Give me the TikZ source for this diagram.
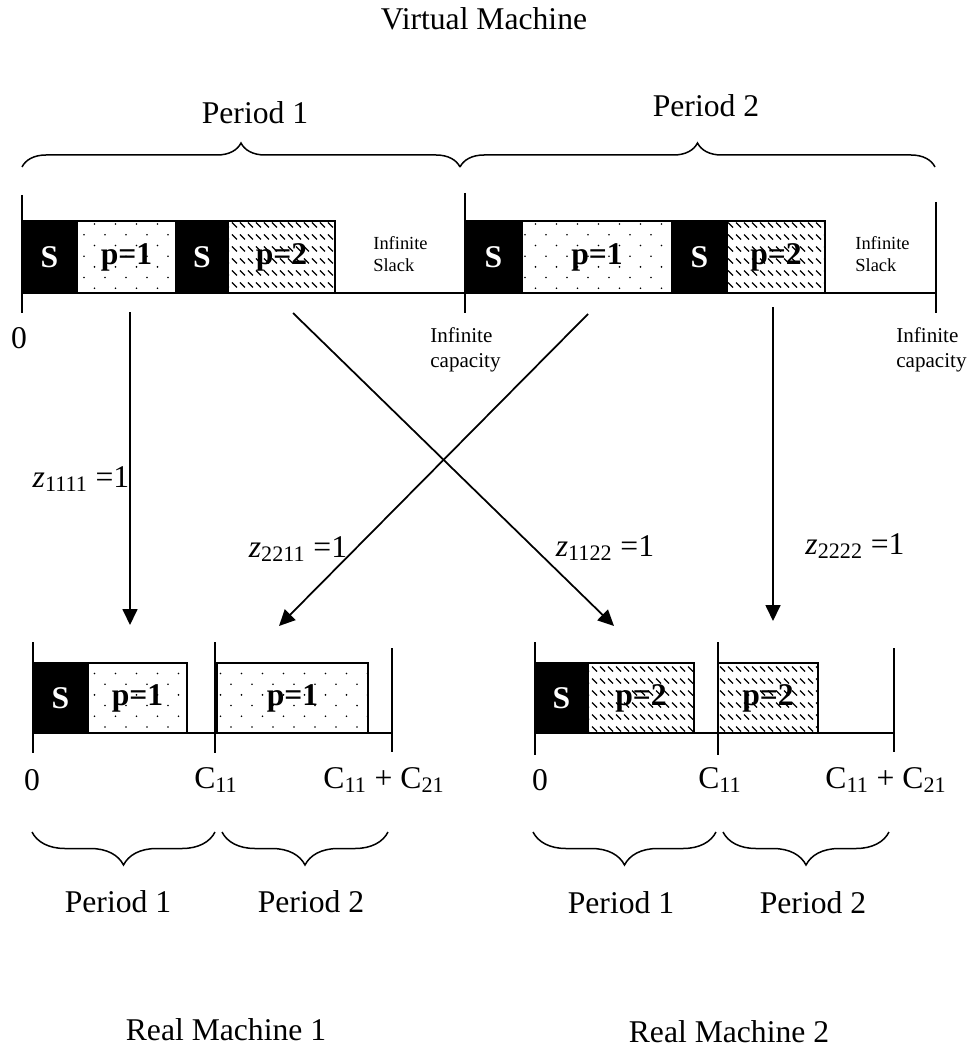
\documentclass[tikz,border=0pt]{standalone}
\usepackage{fontspec}
\setmainfont{Liberation Serif}
\usetikzlibrary{
  arrows.meta,
  positioning,
  patterns,
  decorations.pathreplacing
}

% dotted fill (product 1) and short hatch (product 2)
\pgfdeclarepatternformonly{stagdots}{\pgfqpoint{-0.5mm}{-0.5mm}}{\pgfqpoint{4.7mm}{4.8mm}}{\pgfqpoint{4.2mm}{4.28mm}}{%
  \pgfpathcircle{\pgfqpoint{0mm}{0mm}}{0.18mm}%
  \pgfpathcircle{\pgfqpoint{2.1mm}{2.14mm}}{0.18mm}%
  \pgfusepath{fill}}
\pgfdeclarepatternformonly{hatchdash}{\pgfqpoint{-0.2mm}{-0.2mm}}{\pgfqpoint{1.8mm}{2.6mm}}{\pgfqpoint{1.6mm}{2.4mm}}{%
  \pgfsetlinewidth{0.24mm}%
  \pgfpathmoveto{\pgfqpoint{0mm}{1.9mm}}%
  \pgfpathlineto{\pgfqpoint{1mm}{0.9mm}}%
  \pgfusepath{stroke}}

\begin{document}
\begin{tikzpicture}[x=0.2mm, y=-0.2mm,
  big/.style={font=\fontsize{18}{21}\selectfont},
  tiny/.style={font=\fontsize{10.5}{12.5}\selectfont, align=left, anchor=west, inner sep=0pt},
  capa/.style={font=\fontsize{12}{14.5}\selectfont, align=left, anchor=west, inner sep=0pt},
  blk/.style={draw, line width=0.4mm, inner sep=0pt, outer sep=0pt, font=\fontsize{18}{21}\selectfont\bfseries},
  setup/.style={blk, fill=black, text=white},
  prodA/.style={blk, pattern=stagdots},
  prodB/.style={blk, pattern=hatchdash},
  toprow/.style={minimum height=14.4mm},
  botrow/.style={minimum height=14mm},
  tl/.style={line width=0.3mm},
  brc/.style={decorate, decoration={brace, amplitude=#1}, line width=0.3mm},
  arr/.style={-{Triangle[length=3.2mm,width=3mm]}, line width=0.35mm}
]
  \useasboundingbox (0,0) rectangle (974,1048);

  % virtual machine
  \node[big] (vm) at (484,19) {Virtual Machine};
  \node[big] (vper1) at (255,113) {Period 1};
  \node[big] (vper2) at (706,106) {Period 2};
  \draw[brc=4.8mm] (22,167) -- (460,167);
  \draw[brc=4.8mm] (460,167) -- (935,167);

  \node[setup, toprow, minimum width=11mm, anchor=west] (s11) at (22,257) {S};
  \node[prodA, toprow, minimum width=19.8mm, right=0pt of s11] (p11) {p=1};
  \node[setup, toprow, minimum width=10.4mm, right=0pt of p11] (s12) {S};
  \node[prodB, toprow, minimum width=21.4mm, right=0pt of s12] (p12) {p=2};
  \node[setup, toprow, minimum width=11.4mm, anchor=west] (s21) at (465,257) {S};
  \node[prodA, toprow, minimum width=30mm, right=0pt of s21] (p21) {p=1};
  \node[setup, toprow, minimum width=11mm, right=0pt of p21] (s22) {S};
  \node[prodB, toprow, minimum width=19.6mm, right=0pt of s22] (p22) {p=2};
  \node[tiny] (slack1) at (373,254) {Infinite\\Slack};
  \node[tiny] (slack2) at (855,254) {Infinite\\Slack};

  \draw[tl] (22,293) -- (936,293);
  \draw[tl] (22,195) -- (22,313);
  \draw[tl] (465,193) -- (465,313);
  \draw[tl] (936,202) -- (936,313);
  \node[big] (v0) at (19,338) {0};
  \node[capa] (cap1) at (430,350) {Infinite\\capacity};
  \node[capa] (cap2) at (896,350) {Infinite\\capacity};

  % assignments
  \coordinate (u1111) at (130,312);
  \coordinate (d1111) at (130,625);
  \coordinate (u1122) at (293,313);
  \coordinate (d1122) at (614,626);
  \coordinate (u2211) at (588,314);
  \coordinate (d2211) at (279,626);
  \coordinate (u2222) at (773,307);
  \coordinate (d2222) at (773,621);
  \draw[arr] (u1111) -- (d1111);
  \draw[arr] (u1122) -- (d1122);
  \draw[arr] (u2211) -- (d2211);
  \draw[arr] (u2222) -- (d2222);
  \node[big] (z1111) at (81,479) {\textit{z}\textsubscript{1111} =1};
  \node[big] (z2211) at (298,549) {\textit{z}\textsubscript{2211} =1};
  \node[big] (z1122) at (605,548) {\textit{z}\textsubscript{1122} =1};
  \node[big] (z2222) at (855,546) {\textit{z}\textsubscript{2222} =1};

  % real machine 1
  \node[setup, botrow, minimum width=11mm, anchor=west] (m1s) at (33,698) {S};
  \node[prodA, botrow, minimum width=19.8mm, right=0pt of m1s] (m1p1) {p=1};
  \node[prodA, botrow, minimum width=30.2mm, anchor=west] (m1p2) at (217,698) {p=1};
  \draw[tl] (33,733) -- (392,733);
  \draw[tl] (33,642) -- (33,753);
  \draw[tl] (215,642) -- (215,753);
  \draw[tl] (392,648) -- (392,752);
  \node[big] (m1t0) at (32,780) {0};
  \node[big] (m1t1) at (216,780) {C\textsubscript{11}};
  \node[big] (m1t2) at (384,780) {C\textsubscript{11} + C\textsubscript{21}};
  \draw[brc=6.6mm] (215,832) -- (32,832);
  \draw[brc=6.6mm] (388,832) -- (222,832);
  \node[big] (m1per1) at (118,902) {Period 1};
  \node[big] (m1per2) at (311,902) {Period 2};
  \node[big] (rm1) at (226,1030) {Real Machine 1};

  % real machine 2
  \node[setup, botrow, minimum width=10.6mm, anchor=west] (m2s) at (535,698) {S};
  \node[prodB, botrow, minimum width=21.2mm, right=0pt of m2s] (m2p1) {p=2};
  \node[prodB, botrow, minimum width=20mm, anchor=west] (m2p2) at (718,698) {p=2};
  \draw[tl] (535,733) -- (894,733);
  \draw[tl] (535,642) -- (535,755);
  \draw[tl] (718,642) -- (718,755);
  \draw[tl] (894,648) -- (894,752);
  \node[big] (m2t0) at (540,780) {0};
  \node[big] (m2t1) at (720,780) {C\textsubscript{11}};
  \node[big] (m2t2) at (886,780) {C\textsubscript{11} + C\textsubscript{21}};
  \draw[brc=6.6mm] (716,832) -- (533,832);
  \draw[brc=6.6mm] (889,832) -- (723,832);
  \node[big] (m2per1) at (621,903) {Period 1};
  \node[big] (m2per2) at (813,903) {Period 2};
  \node[big] (rm2) at (729,1032) {Real Machine 2};
\end{tikzpicture}
\end{document}
